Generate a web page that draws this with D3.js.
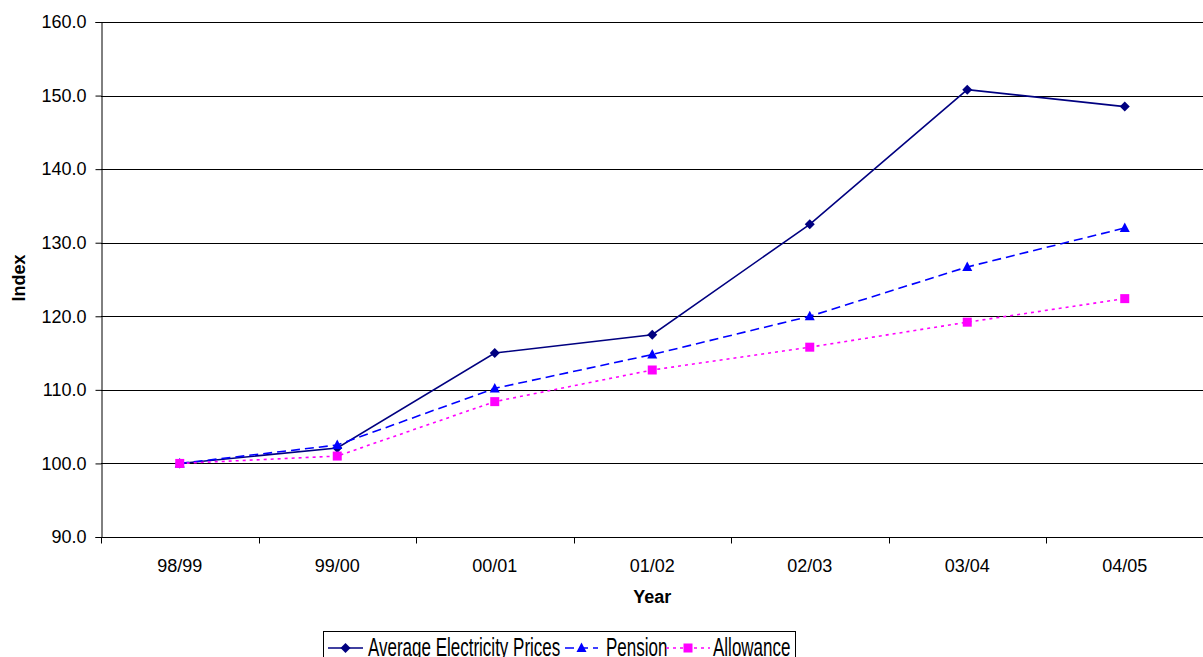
<!DOCTYPE html>
<html>
<head>
<meta charset="utf-8">
<script src="https://cdn.jsdelivr.net/npm/d3@7/dist/d3.min.js"></script>
<style>
  html, body { margin: 0; padding: 0; background: #fff; }
  svg { display: block; font-family: "Liberation Sans", Arial, sans-serif; }
</style>
</head>
<body>
<svg id="chart" width="1203" height="657"></svg>
<script>
// Index values (98/99 = 100)
const years = ["98/99", "99/00", "00/01", "01/02", "02/03", "03/04", "04/05"];
const electricity = [100.0, 102.1, 115.0, 117.5, 132.5, 150.8, 148.5];
const pension = [100.0, 102.5, 110.2, 114.8, 120.0, 126.7, 132.0];
const allowance = [100.0, 101.0, 108.4, 112.7, 115.8, 119.2, 122.4];
const yTicks = [90, 100, 110, 120, 130, 140, 150, 160];

const seriesList = [
  { name: "Average Electricity Prices", values: electricity, color: "#000080", dash: null, marker: "diamond" },
  { name: "Pension", values: pension, color: "#0000FF", dash: "9,5", marker: "triangle" },
  { name: "Allowance", values: allowance, color: "#FF00FF", dash: "3,4", marker: "square" }
];

const svg = d3.select("#chart");
const plot = { left: 101, right: 1203.5, top: 22, bottom: 537 };

const x = d3.scaleBand().domain(years).range([plot.left, plot.right]).paddingInner(0).paddingOuter(0);
const y = d3.scaleLinear().domain([90, 160]).range([plot.bottom, plot.top]);
const cx = d => x(d) + x.bandwidth() / 2;

// horizontal gridlines
svg.append("g")
  .selectAll("line")
  .data(yTicks.slice(1))
  .join("line")
  .attr("x1", plot.left).attr("x2", 1203)
  .attr("y1", d => Math.round(y(d)) + 0.5).attr("y2", d => Math.round(y(d)) + 0.5)
  .attr("stroke", "#000").attr("stroke-width", 1);

// y axis
const yAxis = d3.axisLeft(y).tickValues(yTicks).tickFormat(d3.format(".1f")).tickSize(6).tickPadding(9);
const gy = svg.append("g").attr("transform", `translate(${plot.left + 0.5},0)`).call(yAxis);
gy.select(".domain").attr("stroke", "#000");
gy.selectAll(".tick line").attr("stroke", "#000");
gy.selectAll(".tick text").attr("font-size", 18).attr("fill", "#000")
  .attr("font-family", "Liberation Sans, Arial, sans-serif");

// x axis: ticks at category boundaries
const gx = svg.append("g").attr("transform", `translate(0,${Math.round(plot.bottom) + 0.5})`);
gx.append("line").attr("x1", plot.left).attr("x2", 1203).attr("stroke", "#000");
const bounds = years.map(d => x(d)).concat([plot.right]);
gx.selectAll("line.tk").data(bounds).join("line").attr("class", "tk")
  .attr("x1", d => Math.round(d) + 0.5).attr("x2", d => Math.round(d) + 0.5)
  .attr("y1", 0).attr("y2", 6).attr("stroke", "#000");
gx.selectAll("text").data(years).join("text")
  .attr("x", d => cx(d)).attr("y", 34)
  .attr("text-anchor", "middle").attr("font-size", 18).attr("fill", "#000")
  .text(d => d);

// axis titles
svg.append("text").attr("x", cx(years[3])).attr("y", 603)
  .attr("text-anchor", "middle").attr("font-size", 18).attr("font-weight", "bold").text("Year");
svg.append("text").attr("transform", "translate(25,278) rotate(-90)")
  .attr("text-anchor", "middle").attr("font-size", 18).attr("font-weight", "bold").text("Index");

// markers
function drawMarker(g, type, color, px, py) {
  if (type === "diamond") {
    g.append("path").attr("d", `M${px},${py - 5}L${px + 5},${py}L${px},${py + 5}L${px - 5},${py}Z`).attr("fill", color);
  } else if (type === "triangle") {
    g.append("path").attr("d", `M${px},${py - 5.5}L${px + 5},${py + 4}L${px - 5},${py + 4}Z`).attr("fill", color);
  } else {
    g.append("rect").attr("x", px - 4.5).attr("y", py - 4.5).attr("width", 9).attr("height", 9).attr("fill", color);
  }
}

const line = d3.line().x((d, i) => cx(years[i])).y(d => y(d));
seriesList.forEach(s => {
  const g = svg.append("g");
  g.append("path").datum(s.values).attr("d", line)
    .attr("fill", "none").attr("stroke", s.color).attr("stroke-width", 1.6)
    .attr("stroke-dasharray", s.dash);
  s.values.forEach((v, i) => drawMarker(g, s.marker, s.color, cx(years[i]), y(v)));
});

// legend
const legend = svg.append("g");
legend.append("rect").attr("x", 323.5).attr("y", 631.5).attr("width", 472).attr("height", 40)
  .attr("fill", "#fff").attr("stroke", "#000").attr("stroke-width", 1);
const legendItems = [
  { s: seriesList[0], x1: 328, x2: 363, tx: 368 },
  { s: seriesList[1], x1: 565, x2: 598, tx: 606 },
  { s: seriesList[2], x1: 666, x2: 710, tx: 713 }
];
const ly = 648;
legendItems.forEach(it => {
  legend.append("line").attr("x1", it.x1).attr("x2", it.x2).attr("y1", ly).attr("y2", ly)
    .attr("stroke", it.s.color).attr("stroke-width", 1.6).attr("stroke-dasharray", it.s.dash);
  drawMarker(legend, it.s.marker, it.s.color, (it.x1 + it.x2) / 2, ly);
  legend.append("text").attr("transform", `translate(${it.tx},656) scale(0.68,1)`)
    .attr("font-size", 25).attr("fill", "#000").text(it.s.name);
});
</script>
</body>
</html>
